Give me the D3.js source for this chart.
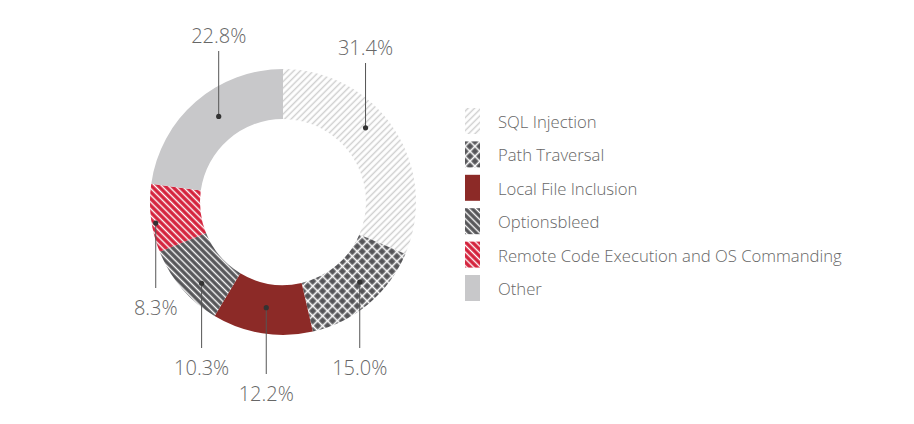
<!DOCTYPE html>
<html>
<head>
<meta charset="utf-8">
<script src="https://cdn.jsdelivr.net/npm/d3@7"></script>
<style>
  body { margin: 0; background: #fff; }
  text { font-family: "Open Sans", "Noto Sans", sans-serif; font-weight: 300; fill: #676767; }
</style>
</head>
<body>
<div id="wrapper"></div>
<script>
// data
const categories = [
  "SQL Injection",
  "Path Traversal",
  "Local File Inclusion",
  "Optionsbleed",
  "Remote Code Execution and OS Commanding",
  "Other"
]
const shares = [31.4, 15.0, 12.2, 10.3, 8.3, 22.8]
const valueLabels = ["31.4%", "15.0%", "12.2%", "10.3%", "8.3%", "22.8%"]

// layout for the marker dots and labels (where along each slice, and label height)
const dotFraction = [0.425, 0.43, 0.5, 0.38, 0.42, 0.55]
const dotRadius = [111, 111, 107, 115, 129, 107]
const labelBaseline = [55, 375, 401, 375, 315, 43]

function drawDonut() {
  const dimensions = { width: 914, height: 424 }
  const center = { x: 283, y: 202 }
  const outerRadius = 133
  const innerRadius = 83

  const wrapper = d3.select("#wrapper")
    .append("svg")
      .attr("width", dimensions.width)
      .attr("height", dimensions.height)

  // fill patterns
  const defs = wrapper.append("defs")

  const stripes = (id, bg, fg, size, angle, lineWidth) => {
    const p = defs.append("pattern")
        .attr("id", id)
        .attr("patternUnits", "userSpaceOnUse")
        .attr("width", size)
        .attr("height", size)
        .attr("patternTransform", `rotate(${angle})`)
    p.append("rect").attr("width", size).attr("height", size).attr("fill", bg)
    p.append("line")
        .attr("x1", size / 2).attr("x2", size / 2)
        .attr("y1", 0).attr("y2", size)
        .attr("stroke", fg)
        .attr("stroke-width", lineWidth)
    return p
  }

  stripes("sql", "#ffffff", "#cdcdcd", 4.6, 45, 1.4)
  const cross = stripes("path", "#555558", "#ffffff", 7, 45, 1.6)
  cross.append("line")
      .attr("x1", 0).attr("x2", 7)
      .attr("y1", 3.5).attr("y2", 3.5)
      .attr("stroke", "#ffffff")
      .attr("stroke-width", 1.6)
  stripes("opt", "#555558", "#ffffff", 4.8, -45, 1.4)
  stripes("rce", "#d4213b", "#ffffff", 4.8, -45, 1.4)

  const fills = ["url(#sql)", "url(#path)", "#8c2a27", "url(#opt)", "url(#rce)", "#c8c8ca"]

  const colorScale = d3.scaleOrdinal()
      .domain(categories)
      .range(fills)

  const pie = d3.pie()
      .value(d => d.value)
      .sort(null)

  const slices = pie(categories.map((c, i) => ({ name: c, value: shares[i], i })))

  const arc = d3.arc()
      .innerRadius(innerRadius)
      .outerRadius(outerRadius)

  const bounds = wrapper.append("g")
      .attr("transform", `translate(${center.x},${center.y})`)

  bounds.selectAll("path.slice")
      .data(slices)
    .enter().append("path")
      .attr("class", "slice")
      .attr("d", arc)
      .attr("fill", d => colorScale(d.data.name))

  // dots, leader lines, value labels
  const dotPos = d => {
    const i = d.data.i
    const a = d.startAngle + (d.endAngle - d.startAngle) * dotFraction[i]
    return [dotRadius[i] * Math.sin(a), -dotRadius[i] * Math.cos(a)]
  }

  const labels = bounds.selectAll("g.label")
      .data(slices)
    .enter().append("g")
      .attr("class", "label")

  labels.append("line")
      .attr("x1", d => dotPos(d)[0])
      .attr("x2", d => dotPos(d)[0])
      .attr("y1", d => dotPos(d)[1])
      .attr("y2", d => {
        const by = labelBaseline[d.data.i] - center.y
        return by < dotPos(d)[1] ? by + 8 : by - 27
      })
      .attr("stroke", "#555")
      .attr("stroke-width", 1)

  labels.append("circle")
      .attr("cx", d => dotPos(d)[0])
      .attr("cy", d => dotPos(d)[1])
      .attr("r", 2.6)
      .attr("fill", "#333")

  labels.append("text")
      .attr("x", d => dotPos(d)[0])
      .attr("y", d => labelBaseline[d.data.i] - center.y)
      .attr("text-anchor", "middle")
      .style("font-size", "20px")
      .text(d => valueLabels[d.data.i])

  // legend
  const legendY = d3.scaleBand()
      .domain(categories)
      .range([108, 108 + 33.4 * categories.length])

  const legend = wrapper.append("g")
      .attr("transform", "translate(465,0)")

  const items = legend.selectAll("g")
      .data(categories)
    .enter().append("g")
      .attr("transform", d => `translate(0,${legendY(d)})`)

  items.append("rect")
      .attr("width", 15)
      .attr("height", 26)
      .attr("fill", d => colorScale(d))

  items.append("text")
      .attr("x", 33)
      .attr("y", 20)
      .style("font-size", "16.7px")
      .text(d => d)
}
drawDonut()
</script>
</body>
</html>
